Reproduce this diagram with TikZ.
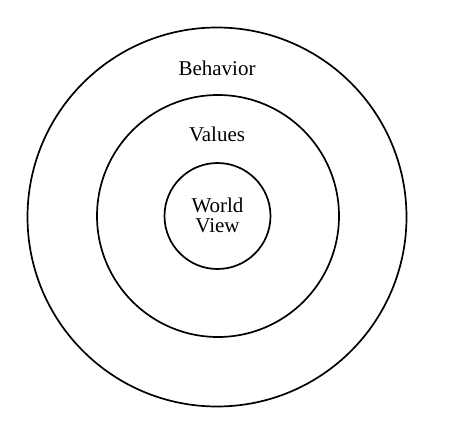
\documentclass[tikz,border=0pt]{standalone}
\usepackage{fontspec}
\setmainfont{Liberation Serif}
\begin{document}
\begin{tikzpicture}[x=1pt,y=-1pt,
  ring/.style={draw=black, line width=1.7pt, circle, inner sep=0pt},
  lab/.style={font=\fontsize{21}{20}\selectfont, align=center, inner sep=0pt}]
\useasboundingbox[fill=white] (0,0) rectangle (450,440);
\node[ring, minimum size=379pt] (outer) at (217,217) {};
\node[ring, minimum size=242pt] (middle) at (218,216) {};
\node[ring, minimum size=106pt] (inner) at (217.5,216) {};
\node[lab] (behavior) at (217,68) {Behavior};
\node[lab] (values) at (217,134) {Values};
\node[lab] (world) at (217.5,215) {World\\View};
\end{tikzpicture}
\end{document}
